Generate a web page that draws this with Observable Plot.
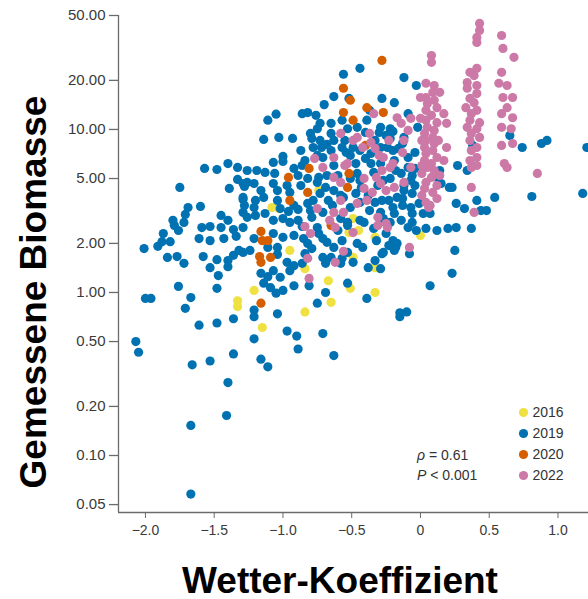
<!DOCTYPE html>
<html>
<head>
<meta charset="utf-8">
<script src="https://cdn.jsdelivr.net/npm/d3@7"></script>
<script src="https://cdn.jsdelivr.net/npm/@observablehq/plot@0.6"></script>
<style>
  html, body { margin: 0; padding: 0; background: #fff; }
  #chart svg { display: block; }
</style>
</head>
<body>
<div id="chart"></div>
<script>
// ---- categories / colours ----
const years = ["2016", "2019", "2020", "2022"];
const yearColors = ["#EFE142", "#0072B2", "#D55E00", "#CC79A7"];

// ---- axis ticks ----
const xTicks = [-2, -1.5, -1, -0.5, 0, 0.5, 1];
const xTickLabels = ["\u22122.0", "\u22121.5", "\u22121.0", "\u22120.5", "0", "0.5", "1.0"];
const yTicks = [50, 20, 10, 5, 2, 1, 0.5, 0.2, 0.1, 0.05];
const yTickLabels = ["50.00", "20.00", "10.00", "5.00", "2.00", "1.00", "0.50", "0.20", "0.10", "0.05"];

// ---- labels ----
const xTitle = "Wetter-Koeffizient";
const yTitle = "Gemessene Biomasse";
const rhoText = "0.61";
const pText = "0.001";

// ---- series values: [Wetter-Koeffizient, Gemessene Biomasse] ----
const pts2016 = [[-1.33,0.89],[-1.33,0.82],[-1.21,1.03],[-1.15,0.61],[-0.84,0.76],[-0.67,1.18],[-0.65,0.87],[-0.51,1.06],[-1.08,3.32],[-1.03,3.27],[-0.74,4.22],[-0.95,1.81],[-0.84,1.40],[-0.49,2.84],[-0.45,2.40],[-0.33,2.18],[0.00,2.24],[-0.49,1.64],[-0.33,1.42],[-0.33,1.00],[-0.52,2.33]];

const pts2019 = [
[-1.75,4.41],[-1.57,5.77],[-1.48,5.68],[-1.40,6.18],[-1.33,5.85],[-1.33,4.94],[-1.39,4.35],[-1.29,4.66],[-1.60,3.37],[-1.69,3.32],[-1.71,3.01],[-1.80,2.77],[-1.79,2.58],[-1.72,2.69],[-1.45,2.97],[-1.40,2.77],[-1.59,2.50],[-1.53,2.54],[-1.87,2.30],[-1.88,2.05],[-1.82,2.05],[-1.61,2.14],[-1.53,2.08],[-1.43,2.14],[-1.36,2.43],[-1.34,2.21],[-1.76,2.40],[-2.01,1.86],[-1.84,1.64],[-1.77,1.66],[-1.72,1.51],[-1.58,1.66],[-1.48,1.59],[-1.40,1.57],[-1.40,1.44],[-1.36,1.69],[-1.53,1.42],[-1.47,1.27],[-1.32,1.81],[-1.76,1.09],[-1.48,1.06],[-2.00,0.92],[-1.96,0.92],[-1.67,0.93],[-1.71,0.80],[-1.61,0.63],[-1.48,0.65],[-1.36,0.69],[-2.07,0.50],[-2.05,0.43],[-1.66,0.36],[-1.53,0.38],[-1.36,0.42],[-1.40,0.28],[-1.41,0.176],[-1.67,0.153],[-1.67,0.058],[-1.29,3.83],[-1.29,3.10],[-1.91,1.92],[-1.45,2.50],
[-0.56,21.8],[-0.63,15.9],[-0.52,15.5],[-0.70,14.2],[-0.76,12.2],[-0.73,10.9],[-0.86,12.5],[-0.82,12.7],[-1.11,11.4],[-1.05,12.4],[-0.65,10.9],[-0.57,11.4],[-0.75,10.1],[-0.65,9.45],[-0.53,10.1],[-0.80,9.45],[-1.14,8.68],[-1.03,8.93],[-0.93,8.81],[-0.79,8.81],[-0.73,8.56],[-0.78,7.75],[-0.72,7.75],[-0.68,8.09],[-0.63,8.56],[-0.57,7.75],[-0.75,6.93],[-0.54,7.22],[-1.00,6.83],[-1.00,6.36],[-1.07,6.28],[-0.71,6.73],[-1.26,5.60],[-1.19,5.60],[-1.13,5.45],[-1.06,5.37],[-0.92,5.77],[-0.86,6.01],[-0.63,6.01],[-0.89,5.22],[-0.82,5.01],[-0.74,5.08],[-0.68,5.22],[-0.60,5.22],[-1.26,4.73],[-1.21,4.66],[-1.28,4.47],[-1.07,4.66],[-0.97,4.53],[-0.87,4.53],[-0.75,4.73],[-0.69,4.41],[-1.16,4.22],[-1.04,4.22],
[-0.95,4.11],[-0.63,4.22],[-0.58,3.94],[-1.29,3.72],[-1.20,3.67],[-1.14,3.83],[-1.04,3.67],[-1.02,3.27],[-0.92,3.42],[-0.89,3.23],[-0.82,3.52],[-0.80,3.18],[-0.71,3.10],[-0.64,3.42],[-0.73,4.05],[-0.78,3.67],[-0.67,3.67],[-0.51,3.32],[-1.26,2.89],[-1.20,2.97],[-1.13,3.05],[-1.28,3.42],[-1.21,3.32],[-0.96,3.14],[-1.07,2.77],[-1.00,2.84],[-0.95,2.69],[-0.89,2.77],[-0.86,2.54],[-0.75,2.50],[-0.74,2.30],[-0.53,2.69],[-1.29,2.50],[-1.21,2.14],[-1.07,2.30],[-1.00,2.18],[-0.92,2.24],[-0.85,2.14],[-0.82,2.00],[-0.79,1.86],[-0.68,2.03],[-0.63,1.89],[-1.29,1.76],[-1.24,1.81],[-1.11,1.89],[-1.04,1.89],[-1.04,1.71],[-0.97,1.53],[-0.92,1.46],[-0.86,1.51],[-0.71,1.64],[-0.65,1.64],[-0.57,1.62],[-0.53,1.76],[-1.16,1.31],[-1.07,1.36],[-1.02,1.24],[-0.95,1.36],[-1.11,1.25],[-1.14,1.14],[-1.09,1.07],[-1.05,0.99],[-1.00,1.03],[-0.92,1.10],[-0.81,1.10],[-0.69,1.00],[-0.53,1.14],[-0.60,2.40],[-0.57,2.08],[-0.71,2.14],[-0.79,2.89],[-0.69,1.51],[-0.84,1.73],
[-0.75,0.86],[-1.21,0.78],[-1.21,0.71],[-1.04,0.74],[-0.97,0.58],[-0.90,0.54],[-0.89,0.45],[-0.71,0.56],[-0.63,0.41],[-1.21,0.52],[-1.16,0.39],[-1.11,0.35],
[-0.44,23.7],[-0.12,20.8],[-0.03,18.6],[-0.28,15.5],[-0.19,14.6],[-0.37,13.1],[-0.09,12.5],[-0.39,11.4],[-0.29,10.3],[-0.22,10.1],[-0.46,10.3],[-0.30,9.59],[-0.20,9.72],[-0.02,10.3],[-0.22,8.81],[-0.12,8.93],[-0.13,8.20],[-0.24,7.75],[-0.36,7.12],[-0.44,7.43],[-0.49,7.75],[-0.29,7.75],[-0.20,7.43],[-0.19,6.45],[-0.09,6.73],[-0.04,7.22],[-0.47,6.18],[-0.36,6.18],[-0.34,5.45],[-0.46,5.37],[-0.14,5.37],[-0.06,5.22],[-0.51,5.01],[-0.27,4.87],[-0.07,4.87],[-0.31,4.53],[-0.43,4.41],[-0.17,3.83],[-0.06,4.05],[-0.28,3.67],[-0.07,3.32],[-0.37,3.18],[-0.19,3.05],[-0.44,2.77],[-0.14,2.77],[-0.25,2.30],[-0.03,2.40],[-0.17,2.00],[-0.32,2.08],[-0.42,1.89],[0.07,3.05],[0.14,5.60],[0.12,5.08],[0.15,4.66],[0.21,4.41],
[-0.12,4.22],[-0.56,3.83],[-0.44,3.57],[-0.33,3.57],[-0.20,3.32],[-0.13,3.42],[-0.01,3.52],[-0.06,3.05],[0.02,3.05],[-0.29,3.10],[-0.27,2.84],[-0.58,2.84],[-0.53,2.58],[-0.41,2.69],[-0.34,2.47],[-0.22,2.69],[-0.20,2.08],[-0.18,1.89],[-0.09,2.50],[-0.06,2.69],[0.04,2.47],[0.12,2.40],[0.20,2.47],[-0.27,1.76],[-0.23,1.94],[-0.46,2.00],[-0.33,1.57],[-0.49,1.53],[-0.58,1.51],[-0.38,1.42],[-0.29,1.40],[-0.28,1.73],[-0.19,1.81],[-0.08,1.73],[0.25,1.81],[0.23,1.31],[0.07,1.10],[-0.39,0.92],[-0.15,0.75],[-0.10,0.76],[-0.15,0.71],
[0.26,2.50],[0.37,2.47],[0.26,3.52],[0.32,3.27],[0.44,3.18],[0.48,3.18],[0.54,3.83],[0.41,3.67],[0.23,4.41],[0.38,7.98],[0.27,6.01],[0.34,5.60],[0.65,9.19],[0.74,7.75],[0.88,8.20],[0.92,8.56],[1.21,7.75],[0.81,3.88],[1.18,4.05],
[-0.55,8.56],[-0.40,9.59],[-0.33,8.56],[-0.25,9.19],[-0.16,7.65],[-0.51,6.93],[-0.40,6.64],[-0.29,6.18],[-0.18,5.60],[-0.09,5.85],[-0.44,4.87],[-0.22,5.01],[-0.12,4.53],[-0.04,5.77],[-0.47,4.05],[-0.38,3.94],[-0.23,3.67],[-0.13,3.77],[-0.04,4.53],[-0.87,7.43],[-0.84,6.45],[-0.65,7.43]
];

const pts2020 = [[-0.28,26.5],[-0.56,17.9],[-0.51,15.1],[-0.39,13.6],[-0.27,12.7],[-0.56,12.7],[-0.49,11.4],[-0.40,7.98],[-0.52,5.37],[-0.96,5.08],[-0.81,5.77],[-0.53,4.41],[-0.82,4.11],[-0.95,3.67],[-0.65,2.58],[-1.16,2.37],[-1.15,2.08],[-1.11,2.08],[-1.17,1.66],[-1.09,1.64],[-1.16,1.53],[-1.16,0.86]];

const pts2022 = [
[0.08,28.4],[0.08,25.8],[0.04,19.2],[0.10,18.6],[0.09,16.9],[0.04,15.7],[0.10,15.1],[0.05,14.4],[0.12,13.6],[0.04,13.1],[0.17,12.5],[0.08,12.2],[0.04,11.4],[0.12,11.0],[0.05,10.3],[0.19,10.9],[0.10,9.86],[0.03,9.45],[0.09,8.93],[0.04,8.56],[0.10,8.20],[0.03,7.75],[0.09,7.43],[0.04,7.12],[0.19,7.75],[0.12,6.73],[0.03,6.45],[0.08,6.18],[0.17,6.45],[0.05,5.85],[0.10,5.60],[0.01,5.37],[0.08,5.08],[0.04,4.73],[0.12,4.53],[0.03,4.35],[0.09,4.11],[0.12,3.77],[0.04,3.57],[0.07,3.42],[0.00,11.7],[0.01,8.56],[0.00,15.7],[0.06,3.32],[0.14,16.9],[0.13,8.56],[0.01,6.01],[0.14,5.22],[0.01,3.94],
[0.43,44.7],[0.43,40.5],[0.41,36.7],[0.41,34.2],[0.41,23.7],[0.36,22.4],[0.39,21.4],[0.34,19.4],[0.41,18.6],[0.34,17.9],[0.41,16.6],[0.36,15.5],[0.39,14.6],[0.33,13.6],[0.41,13.1],[0.37,12.5],[0.36,11.4],[0.43,11.0],[0.34,10.3],[0.41,10.1],[0.37,9.45],[0.43,8.93],[0.36,8.56],[0.41,7.75],[0.37,7.43],[0.41,6.73],[0.36,6.45],[0.41,6.01],[0.37,5.85],[0.37,4.41],[0.39,3.10],
[0.59,37.7],[0.60,31.4],[0.68,27.7],[0.59,22.4],[0.57,19.2],[0.63,18.6],[0.60,15.7],[0.67,15.7],[0.63,13.6],[0.59,12.5],[0.67,11.8],[0.59,10.3],[0.66,10.1],[0.59,7.98],[0.67,8.20],[0.61,6.18],[0.63,5.85],[0.85,5.37],
[-0.58,9.45],[-0.49,8.56],[-0.77,6.64],[-0.71,5.85],[-0.63,6.73],[-0.55,6.01],[-0.63,5.08],[-0.58,4.73],[-0.75,3.27],[-0.58,3.67],[-0.63,3.10],[-0.84,2.54],[-0.66,2.77],[-0.80,2.30],[-0.62,2.50],[-0.82,1.62],[-0.62,1.53],[-0.81,1.22],[-0.56,3.10],[-0.56,1.79],[-0.17,11.8],[-0.07,11.7],[-0.14,10.9],[-0.34,12.5],[-0.23,8.56],[-0.12,8.56],[-0.37,9.45],[-0.46,8.93],[-0.42,7.75],[-0.33,7.65],[-0.36,8.32],[-0.30,6.93],[-0.20,6.18],[-0.28,5.60],[-0.07,5.85],[-0.12,4.73],[-0.41,5.01],[-0.32,5.08],[-0.35,4.11],[-0.25,4.22],[-0.39,3.67],[-0.46,3.52],[-0.19,4.41],[-0.31,2.89],[-0.24,2.50],[-0.08,1.89],[-0.09,9.86],[-0.13,7.22],[-0.27,6.73],[-0.53,6.18],[-0.22,5.85],[-0.29,4.66],[-0.41,4.35],[-0.31,2.58],[-0.25,2.65],[-0.49,2.33]
];

// ---- build table (draw order: 2016, 2019, 2020, 2022) ----
const series = [pts2016, pts2019, pts2020, pts2022];
const data = [];
series.forEach((pts, i) => pts.forEach(([x, y]) => data.push({x, y, year: years[i]})));

const xDomain = [-2.196, 1.222];
const yDomain = [0.04471, 50];
const yTickLen = 0.066; // tick length in x units (left of the axis)
const axisGray = "#6b6b6b";
const labelGray = "#3a3a3a";
const font = "'Liberation Sans', Arial, Helvetica, sans-serif";

const legendMarks = years.flatMap((yr, i) => {
  const dy = [-100, -79, -58, -37][i];
  return [
    Plot.dot([yr], {frameAnchor: "bottom-right", dx: -65, dy, r: 4.6, fill: yearColors[i]}),
    Plot.text([yr], {frameAnchor: "bottom-right", dx: -56, dy, textAnchor: "start", lineAnchor: "middle", fontSize: 14, fill: "#333"})
  ];
});

const chart = Plot.plot({
  width: 588,
  height: 599,
  marginLeft: 118,
  marginRight: 0,
  marginTop: 15,
  marginBottom: 87,
  style: {fontFamily: font, fontSize: "14px", color: labelGray, background: "#fff", overflow: "visible"},
  x: {domain: xDomain},
  y: {type: "log", domain: yDomain, axis: null},
  color: {domain: years, range: yearColors},
  marks: [
    // axis lines
    Plot.ruleX([{x: xDomain[0], y1: yDomain[0], y2: yTicks[0]}], {x: "x", y1: "y1", y2: "y2", stroke: axisGray, strokeWidth: 1.3}),
    Plot.ruleY([{y: yDomain[0]}], {y: "y", stroke: axisGray, strokeWidth: 1.3}),
    // y ticks + labels
    Plot.ruleY(yTicks, {y: d => d, x1: xDomain[0] - yTickLen, x2: xDomain[0], stroke: axisGray, strokeWidth: 1.3}),
    Plot.text(yTicks, {y: d => d, x: xDomain[0], text: (d, i) => yTickLabels[i], dx: -13, textAnchor: "end", lineAnchor: "middle", fontSize: 15, fill: labelGray}),
    // x ticks + labels
    Plot.axisX({ticks: xTicks, tickFormat: d => xTickLabels[xTicks.indexOf(d)], tickSize: 6, tickPadding: 7, label: null, stroke: axisGray, fill: labelGray, fontSize: 14}),
    // points
    Plot.dot(data, {x: "x", y: "y", fill: "year", r: 4.6}),
    ...legendMarks
  ]
});

const svg = d3.select(chart);

// axis titles
svg.append("text")
  .attr("x", 340).attr("y", 580)
  .attr("text-anchor", "middle").attr("dominant-baseline", "central")
  .attr("font-family", font).attr("font-size", 37).attr("font-weight", "bold").attr("fill", "#000")
  .text(xTitle);
svg.append("text")
  .attr("transform", "translate(33,292) rotate(-90)")
  .attr("text-anchor", "middle").attr("dominant-baseline", "central")
  .attr("font-family", font).attr("font-size", 37).attr("font-weight", "bold").attr("fill", "#000")
  .text(yTitle);

// statistics annotation (italic symbols)
const ann = svg.append("g").attr("font-family", font).attr("font-size", 14).attr("fill", "#333").attr("text-anchor", "start");
const t1 = ann.append("text").attr("x", 417).attr("y", 460);
t1.append("tspan").attr("font-style", "italic").text("\u03C1");
t1.append("tspan").text(" = " + rhoText);
const t2 = ann.append("text").attr("x", 417).attr("y", 480);
t2.append("tspan").attr("font-style", "italic").text("P");
t2.append("tspan").text(" < " + pText);

document.getElementById("chart").appendChild(chart);
</script>
</body>
</html>
